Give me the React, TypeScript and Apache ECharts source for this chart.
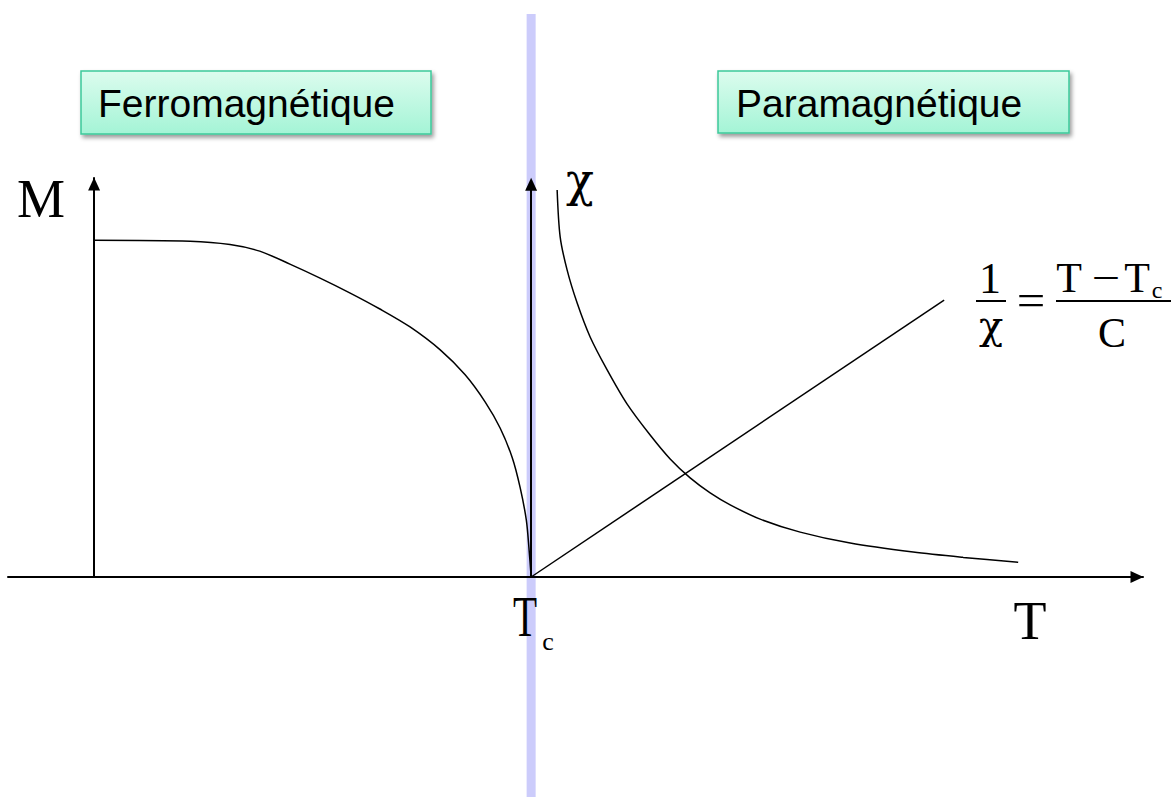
import React, { useEffect, useRef } from "react";
import * as echarts from "echarts";

// Temperature axis (T) in arbitrary units; Curie temperature at T = 100
const T_MIN = -19.7;
const T_MAX = 240;
const T_CURIE = 100;
const Y_MAX = 1.2;

// Spontaneous magnetisation M(T) below Tc
const magT = [0, 21.97, 31.1, 37.9, 44.8, 51.7, 58.6, 65.4, 72.3, 79.2, 84.9, 89.5, 92.9, 95.7, 97.5, 98.9, 99.5, 100];
const magM = [1.013, 1.010, 1.000, 0.980, 0.941, 0.899, 0.854, 0.806, 0.752, 0.683, 0.608, 0.526, 0.448, 0.358, 0.268, 0.171, 0.087, 0];

// Susceptibility chi(T) above Tc
const chiT = [105.95, 106.64, 108.24, 110.53, 113.5, 117.39, 121.97, 127.23, 131.81, 136.38, 140.96, 145.54, 152.4, 161.56, 173.0, 187.41, 198.86, 211.44];
const chiV = [1.164, 1.023, 0.923, 0.824, 0.722, 0.623, 0.52, 0.427, 0.355, 0.298, 0.253, 0.217, 0.174, 0.135, 0.102, 0.075, 0.059, 0.044];

// Inverse susceptibility 1/chi (Curie-Weiss straight line)
const invT = [100, 194.5];
const invV = [0, 0.833];

const zip = (xs: number[], ys: number[]) => xs.map((x, i) => [x, ys[i]]);

const SERIF = "'Liberation Serif', 'Times New Roman', serif";
const GREEK = "'DejaVu Serif', 'Liberation Serif', serif";
const SANS = "'Liberation Sans', Arial, sans-serif";

export default function App() {
  const ref = useRef<HTMLDivElement>(null);

  useEffect(() => {
    document.body.style.margin = "0";
    if (!ref.current) return;
    const chart = echarts.init(ref.current, undefined, { renderer: "svg" });

    const axisLine = {
      show: true,
      onZero: true,
      symbol: ["none", "triangle"],
      symbolSize: [12, 13],
      symbolOffset: [0, -6],
      lineStyle: { color: "#000", width: 2 },
    };

    const curveStyle = { color: "#000", width: 1.5 };

    chart.setOption({
      animation: false,
      backgroundColor: "#fff",
      grid: { left: 8, right: 32, top: 178, bottom: 220 },
      xAxis: {
        type: "value",
        min: T_MIN,
        max: T_MAX,
        axisLine,
        axisTick: { show: false },
        axisLabel: { show: false },
        splitLine: { show: false },
      },
      yAxis: {
        type: "value",
        min: 0,
        max: Y_MAX,
        axisLine,
        axisTick: { show: false },
        axisLabel: { show: false },
        splitLine: { show: false },
      },
      series: [
        {
          type: "line",
          data: zip(magT, magM),
          smooth: 0.3,
          showSymbol: false,
          silent: true,
          lineStyle: curveStyle,
          z: 3,
          markLine: {
            silent: true,
            symbol: ["none", "triangle"],
            symbolSize: [12, 13],
            label: { show: false },
            lineStyle: { color: "#000", width: 2, type: "solid" },
            data: [[{ coord: [T_CURIE, 0] }, { coord: [T_CURIE, 1.181] }]],
          },
        },
        {
          type: "line",
          data: zip(chiT, chiV),
          smooth: 0.3,
          showSymbol: false,
          silent: true,
          lineStyle: curveStyle,
          z: 3,
        },
        {
          type: "line",
          data: zip(invT, invV),
          showSymbol: false,
          silent: true,
          lineStyle: curveStyle,
          z: 3,
        },
      ],
    });

    const [tcX] = chart.convertToPixel({ gridIndex: 0 }, [T_CURIE, 0]) as number[];

    const text = (x: number, y: number, str: string, size: number, family = SERIF, extra: any = {}, align = "center") => ({
      type: "text",
      x,
      y,
      silent: true,
      z: 10,
      ...extra,
      style: {
        text: str,
        font: `${size}px ${family}`,
        fill: "#000",
        align,
        verticalAlign: "middle",
      },
    });

    const box = (x: number, y: number, w: number, h: number, label: string, tx: number) => ({
      type: "group",
      children: [
        {
          type: "rect",
          shape: { x, y, width: w, height: h },
          silent: true,
          z: 5,
          style: {
            fill: new echarts.graphic.LinearGradient(0, 0, 0, 1, [
              { offset: 0, color: "#dcfcee" },
              { offset: 1, color: "#a4f4d6" },
            ]),
            stroke: "#3cc99b",
            lineWidth: 1.5,
            shadowBlur: 4,
            shadowOffsetX: 2,
            shadowOffsetY: 3,
            shadowColor: "rgba(0,0,0,0.4)",
          },
        },
        text(tx, y + 32, label, 39, SANS, { z: 6 }, "left"),
      ],
    });

    const rule = (x1: number, x2: number, y: number) => ({
      type: "line",
      silent: true,
      z: 10,
      shape: { x1, y1: y, x2, y2: y },
      style: { stroke: "#000", lineWidth: 2 },
    });

    chart.setOption({
      graphic: [
        // Transition band at the Curie temperature
        {
          type: "rect",
          silent: true,
          z: -10,
          shape: { x: tcX - 4.5, y: 14, width: 9, height: 797 - 14 },
          style: { fill: "#ccccfb" },
        },
        box(81, 71, 350, 63, "Ferromagnétique", 98),
        box(718, 71, 351, 62, "Paramagnétique", 736),
        // Axis names
        text(41, 199, "M", 54),
        text(580, 180, "χ", 46, GREEK),
        text(tcX - 6, 617, "T", 58, SERIF, { scaleX: 0.68 }),
        text(548, 641, "c", 26),
        text(1030, 621, "T", 54),
        // Curie-Weiss law: 1/χ = (T − Tc)/C
        text(990, 278, "1", 44),
        rule(976, 1006, 301),
        text(991, 325, "χ", 40, GREEK),
        text(1031, 300, "=", 46, SERIF, { scaleX: 1.1 }),
        text(1069, 278, "T", 42),
        text(1106, 278, "−", 42, SERIF, { scaleX: 1.2 }),
        text(1137, 278, "T", 42),
        text(1157, 290, "c", 24),
        rule(1056, 1171, 301),
        text(1112, 333, "C", 42),
      ],
    });

    return () => chart.dispose();
  }, []);

  return <div ref={ref} style={{ width: 1175, height: 797 }} />;
}
